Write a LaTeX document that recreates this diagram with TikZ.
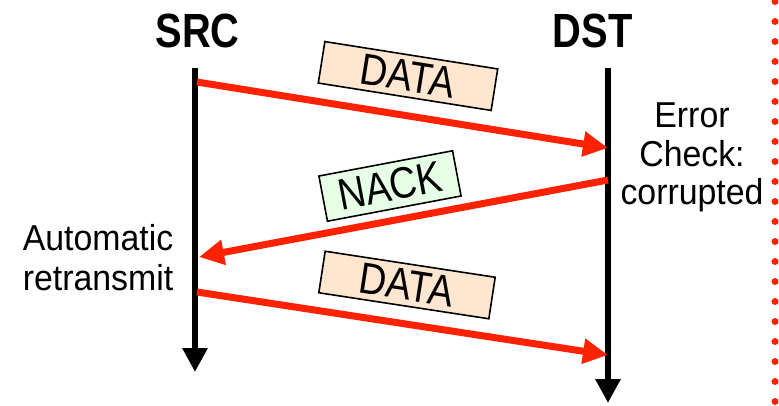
\documentclass[tikz,border=0pt]{standalone}
\usepackage{fontspec}
\setmainfont{Liberation Sans}
\newfontfamily\hdfont[FakeStretch=0.83]{Liberation Sans Bold}
\newfontfamily\boxfont[FakeStretch=0.86]{Liberation Sans}
\newfontfamily\notefont[FakeStretch=0.94]{Liberation Sans}
\usetikzlibrary{arrows.meta}
\definecolor{arrred}{RGB}{255,34,0}
\definecolor{datafill}{RGB}{255,230,208}
\definecolor{nackfill}{RGB}{230,255,230}
\begin{document}
\begin{tikzpicture}[x=1pt,y=-1pt,
  lifeline/.style={line width=6pt,-{Triangle[length=24pt,width=24pt]}},
  msg/.style={draw=arrred,line width=7pt,-{Triangle[length=25pt,width=24pt]},color=arrred},
  msgbox/.style={draw=black,line width=1.6pt,inner sep=0pt,minimum height=42pt,
    font=\boxfont\fontsize{44}{44}\selectfont},
  hdr/.style={inner sep=0pt,font=\hdfont\fontsize{48}{48}\selectfont},
  note/.style={inner sep=0pt,font=\notefont\fontsize{36}{38}\selectfont},
  dotline/.style={draw=arrred,line width=7pt,line cap=round,dash pattern=on 0pt off 20pt}
]
\useasboundingbox (0,0) rectangle (779,405);
% lifelines
\coordinate (srcTop) at (195,68);
\coordinate (srcBot) at (195,372);
\coordinate (dstTop) at (608,68);
\coordinate (dstBot) at (608,403);
\draw[lifeline] (srcTop) -- (srcBot);
\draw[lifeline] (dstTop) -- (dstBot);
% headers
\node[hdr,anchor=base] (src) at (197.5,47) {SRC};
\node[hdr,anchor=base] (dst) at (592.5,47) {DST};
% messages
\coordinate (m1s) at (197,82);
\coordinate (m1e) at (608,148);
\coordinate (m2s) at (608,180);
\coordinate (m2e) at (199,257);
\coordinate (m3s) at (197,292);
\coordinate (m3e) at (608,355);
\draw[msg] (m1s) -- (m1e);
\draw[msg] (m2s) -- (m2e);
\draw[msg] (m3s) -- (m3e);
% boxes
\node[msgbox,fill=datafill,minimum width=175pt,rotate=-9] (data1) at (408,76) {DATA};
\node[msgbox,fill=nackfill,minimum width=136pt,minimum height=46pt,rotate=10.7] (nack) at (390,186) {NACK};
\node[msgbox,fill=datafill,minimum width=172pt,rotate=-8.7] (data2) at (407,285) {DATA};
% notes
\node[note,anchor=base] (err1) at (692,127) {Error};
\node[note,anchor=base] (err2) at (692,166) {Check:};
\node[note,anchor=base] (err3) at (692,204) {corrupted};
\node[note,anchor=base] (auto1) at (98,250) {Automatic};
\node[note,anchor=base] (auto2) at (98,290) {retransmit};
% dotted separator
\coordinate (dotTop) at (775,1.5);
\coordinate (dotBot) at (775,405);
\draw[dotline] (dotTop) -- (dotBot);
\end{tikzpicture}
\end{document}
